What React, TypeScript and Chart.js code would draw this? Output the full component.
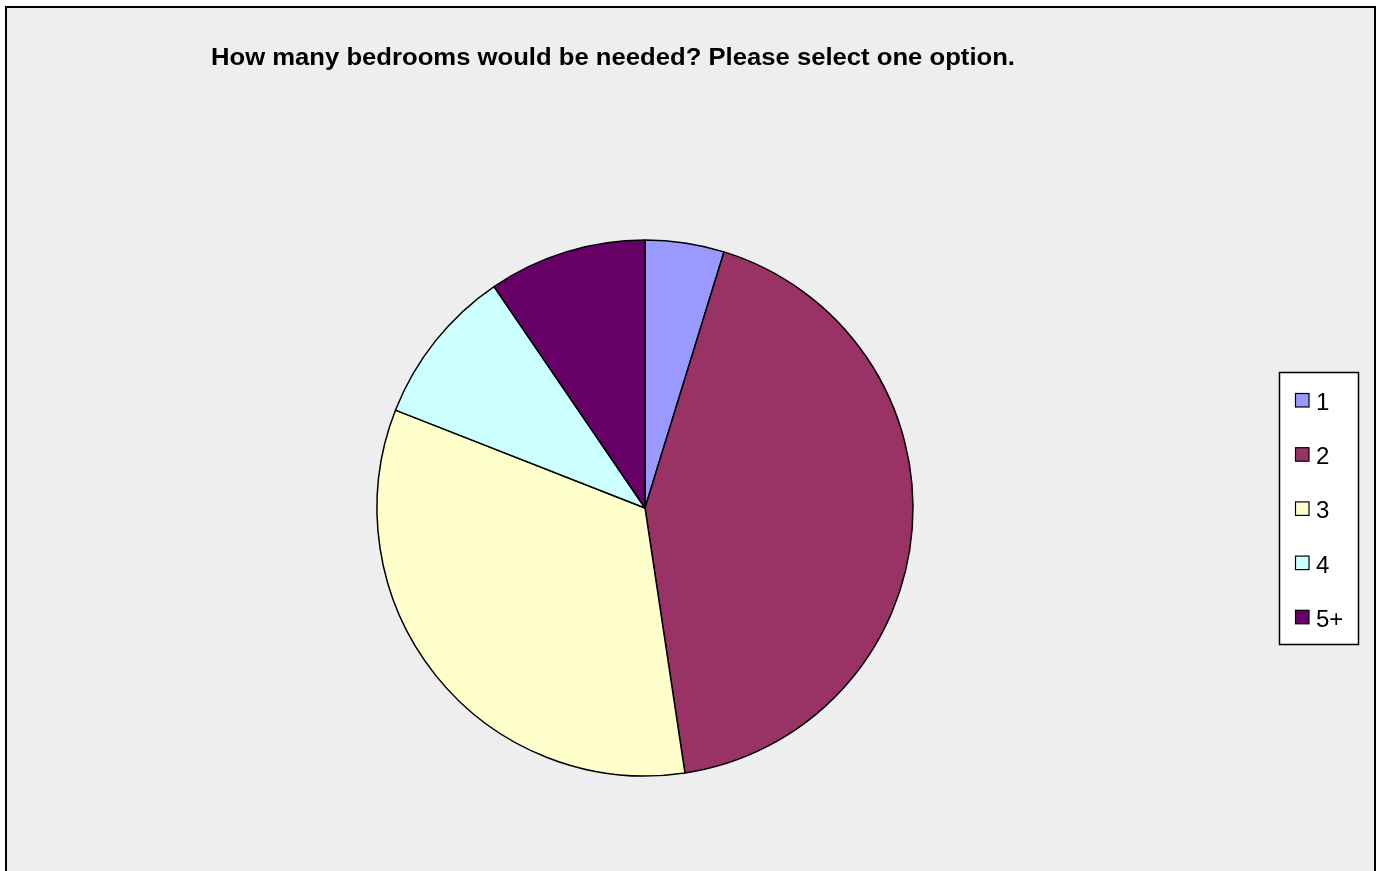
import React, { useEffect, useRef } from "react";
import { Chart, registerables } from "chart.js";

Chart.register(...registerables);

const title = "How many bedrooms would be needed? Please select one option.";
const categories = ["1", "2", "3", "4", "5+"];
const responses = [1, 9, 7, 2, 2];
const sliceColors = ["#9999FF", "#993366", "#FFFFCC", "#CCFFFF", "#660066"];

const W = 1381;
const H = 871;

const overlayPlugin = {
  id: "excelOverlay",
  afterDraw(chart: any) {
    const ctx = chart.ctx as CanvasRenderingContext2D;
    ctx.save();
    // title
    ctx.font = "bold 23px 'Liberation Sans', Arial, sans-serif";
    ctx.fillStyle = "#000";
    ctx.textBaseline = "alphabetic";
    ctx.textAlign = "left";
    const tw = ctx.measureText(title).width;
    const target = 804;
    ctx.save();
    ctx.translate(211, 65);
    ctx.scale(target / tw, 1);
    ctx.fillText(title, 0, 0);
    ctx.restore();

    // legend box
    ctx.fillStyle = "#FFFFFF";
    ctx.fillRect(1279.5, 372.5, 79, 272);
    ctx.lineWidth = 1.5;
    ctx.strokeStyle = "#000";
    ctx.strokeRect(1279.5, 372.5, 79, 272);

    const items = chart.options.plugins.legend.labels.generateLabels(chart);
    ctx.font = "24px 'Liberation Sans', Arial, sans-serif";
    items.forEach((it: any, i: number) => {
      const y = 393.5 + i * 54.2;
      ctx.fillStyle = it.fillStyle;
      ctx.fillRect(1295.5, y, 13.5, 13.5);
      ctx.lineWidth = 1.2;
      ctx.strokeStyle = "#000";
      ctx.strokeRect(1295.5, y, 13.5, 13.5);
      ctx.fillStyle = "#000";
      ctx.fillText(it.text, 1316, y + 16.5);
    });
    ctx.restore();
  },
};

export default function App() {
  const ref = useRef<HTMLCanvasElement | null>(null);
  useEffect(() => {
    if (!ref.current) return;
    const cx = 645;
    const cy = 508;
    const side = 537.5;
    const left = cx - side / 2;
    const top = cy - side / 2;
    const chart = new Chart(ref.current, {
      type: "pie",
      data: {
        labels: categories,
        datasets: [
          {
            data: responses,
            backgroundColor: sliceColors,
            borderColor: "#000000",
            borderWidth: 1.5,
            hoverOffset: 0,
          },
        ],
      },
      options: {
        animation: false,
        responsive: false,
        events: [],
        layout: {
          padding: {
            left: left,
            top: top,
            right: W - (left + side),
            bottom: H - (top + side),
          },
        },
        plugins: {
          legend: { display: false },
          tooltip: { enabled: false },
          title: { display: false },
        },
      },
      plugins: [overlayPlugin],
    });
    return () => chart.destroy();
  }, []);

  return (
    <div style={{ position: "fixed", left: 0, top: 0, width: W, height: H, overflow: "hidden", background: "#FFFFFF" }}>
      <div
        style={{
          position: "absolute",
          left: 5,
          top: 6,
          width: 1367,
          height: 900,
          border: "2px solid #000",
          background: "#EEEEEE",
        }}
      />
      <canvas ref={ref} width={W} height={H} style={{ position: "absolute", left: 0, top: 0, width: W, height: H }} />
    </div>
  );
}
